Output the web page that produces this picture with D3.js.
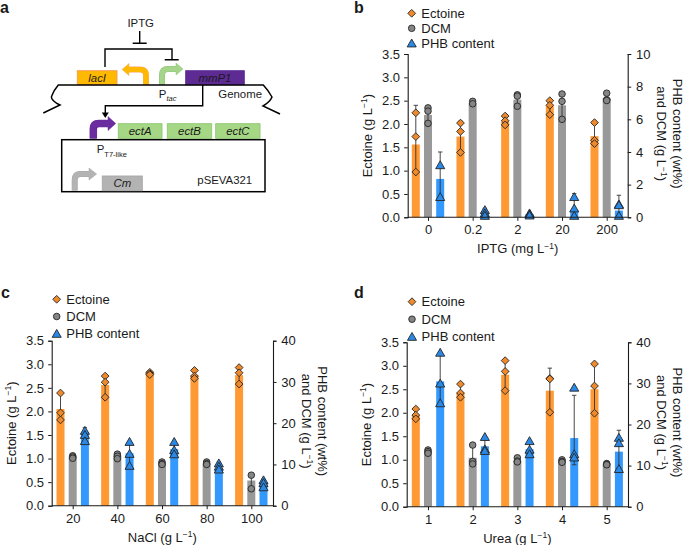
<!DOCTYPE html>
<html><head><meta charset="utf-8">
<script src="https://cdn.jsdelivr.net/npm/d3@7"></script>
<style>
html,body{margin:0;padding:0;background:#fff}
svg{display:block}
text{font-family:"Liberation Sans",Arial,Helvetica,sans-serif;fill:#1a1a1a}
</style></head><body><svg id="c" width="685" height="545"></svg>
<script>
// Panel b
const bCats=["0","0.2","2","20","200"];
const bEct=[1.56,1.73,2.05,2.38,1.74];
const bEctPts=[[2.24,1.73,0.97],[2.02,1.84,1.39],[2.17,2.07,1.98],[2.5,2.4,2.2],[2.03,1.65,1.58]];
const bEctHi=[2.4,2.06,2.2,2.52,2.03];
const bEctLo=[0.97,1.39,1.98,2.2,1.58];
const bDcm=[6.27,7.0,7.2,6.86,7.3];
const bDcmPts=[[6.7,6.5,5.75],[7.1,6.95],[7.5,7.42,6.8],[7.55,7.1,6.0],[7.6,7.2,7.15]];
const bDcmHi=[6.7,7.1,7.55,7.6,7.6];
const bDcmLo=[5.75,6.9,6.8,6.0,7.15];
const bPhb=[2.35,0.3,0.2,0.45,0.41];
const bPhbPts=[[3.2,1.25],[0.45,0.25,0.1],[0.25,0.18,0.12],[1.25,0.55,0.1],[0.8,0.75,0.1]];
const bPhbHi=[4.0,0.55,0.3,1.45,1.35];
const bPhbLo=[1.25,0.05,0.1,0.05,0.05];
// Panel c
const cCats=["20","40","60","80","100"];
const cEct=[2.05,2.56,2.8,2.76,2.77];
const cEctPts=[[2.39,1.97,1.82],[2.75,2.62,2.3],[2.83,2.8,2.78],[2.87,2.75,2.7],[2.93,2.82,2.58]];
const cEctHi=[2.39,2.75,2.83,2.87,2.93];
const cEctLo=[1.82,2.3,2.78,2.7,2.58];
const cDcm=[12,12.2,10.3,10.2,6.1];
const cDcmPts=[[12.1,11.8,11.5],[12.5,12,11.4],[10.6,10.2,10.0],[10.6,10.2,10.0],[7.4,4.1]];
const cDcmHi=[12.6,12.6,10.8,10.7,7.9];
const cDcmLo=[11.4,11.3,9.8,9.7,4.1];
const cPhb=[17.7,12.7,13.7,9,5.5];
const cPhbPts=[[18.2,17.2,15.7],[15.5,12.6,9.7],[15.5,13.5,12.5],[10.3,9.5,8.8],[6.2,5.5,4.5]];
const cPhbHi=[18.9,15.5,15.5,10.6,6.4];
const cPhbLo=[15.7,9.7,12.3,8.6,4.4];
// Panel d
const dCats=["1","2","3","4","5"];
const dEct=[1.95,2.43,2.81,2.47,2.5];
const dEctPts=[[2.08,1.95,1.87],[2.61,2.42,2.33],[3.11,2.88,2.47],[2.73,2.72,2.01],[3.04,2.57,1.99]];
const dEctHi=[2.1,2.62,3.11,2.95,3.04];
const dEctLo=[1.85,2.3,2.47,2.01,1.99];
const dDcm=[13.4,11.9,11.2,11,10.3];
const dDcmPts=[[13.8,13.4,13],[15,11,10.4],[11.9,11.1,10.9],[11.4,11,10.8],[10.5,10.3,10.2]];
const dDcmHi=[13.9,15,12,11.6,10.6];
const dDcmLo=[13,10.4,10.8,10.5,10.1];
const dPhb=[30.5,14.7,14,16.7,13.4];
const dPhbPts=[[37.5,30,25.2],[17,14,13.6],[16,13.9,12.8],[29,12.8,12],[16.8,15.5,9.2]];
const dPhbHi=[37.5,17,16,27.1,18.6];
const dPhbLo=[25.2,13.4,12.8,10.2,9.2];

const leftTicks=[0,0.5,1,1.5,2,2.5,3,3.5];
const legendLabels=["Ectoine","DCM","PHB content"];
const colors=["#ff9933","#999999","#3399ff"];
const markerFill=["#ee8a2c","#858585","#2a88e6"];

const svg=d3.select("#c");
const FS=13;
const FSA=11.4;
const squareDiamond={draw(ctx,size){const r=Math.sqrt(size/2);ctx.moveTo(0,-r);ctx.lineTo(r,0);ctx.lineTo(0,r);ctx.lineTo(-r,0);ctx.closePath();}};

function sup(g,parts){
  const t=g.append("text").attr("font-size",FS);
  t.append("tspan").text(parts[0]);
  t.append("tspan").attr("font-size",8.5).attr("dy",-4.5).text(parts[1]);
  t.append("tspan").attr("dy",4.5).text(parts[2]);
  return t;
}
function marker(g,kind,x,y,fill){
  const size=kind===1?34:(kind===0?30:36);
  const type=kind===0?squareDiamond:(kind===1?d3.symbolCircle:d3.symbolTriangle);
  const dy=kind===2?1:0;
  g.append("path").attr("d",d3.symbol().type(type).size(size)())
    .attr("transform",`translate(${x},${y+dy})`)
    .attr("fill",fill).attr("stroke","#262626").attr("stroke-width",0.9);
}
function panel(o){
  const g=svg.append("g");
  const yL=d3.scaleLinear().domain([0,3.5]).range([o.y0,o.y1]);
  const yR=d3.scaleLinear().domain([0,o.rightMax]).range([o.y0,o.y1]);
  const x=d3.scalePoint().domain(o.cats).range([o.xFirst,o.xLast]);
  const off=d3.scalePoint().domain([0,1,2]).range([-12.2,12.2]);
  const bw=8;
  o.series.forEach((s,i)=>{
    const sc=i===0?yL:yR;
    g.append("g").selectAll("rect").data(s.bars).join("rect")
      .attr("x",(d,j)=>x(o.cats[j])+off(i)-bw/2).attr("width",bw)
      .attr("y",d=>sc(d)).attr("height",d=>o.y0-sc(d)).attr("fill",colors[i]);
  });
  o.series.forEach((s,i)=>{
    const sc=i===0?yL:yR;
    s.hi.forEach((h,j)=>{
      const cx=x(o.cats[j])+off(i);
      const path=d3.path();
      path.moveTo(cx,sc(h));path.lineTo(cx,sc(s.lo[j]));
      path.moveTo(cx-2.2,sc(h));path.lineTo(cx+2.2,sc(h));
      path.moveTo(cx-2.2,sc(s.lo[j]));path.lineTo(cx+2.2,sc(s.lo[j]));
      g.append("path").attr("d",path.toString()).attr("stroke","#333").attr("stroke-width",0.9).attr("fill","none");
    });
    s.pts.forEach((arr,j)=>arr.forEach(v=>marker(g,i,x(o.cats[j])+off(i),sc(v),markerFill[i])));
  });
  const axL=g.append("g").attr("transform",`translate(${o.xL},0)`).call(d3.axisLeft(yL).tickValues(leftTicks).tickFormat(d3.format(".1f")).tickSize(3.5).tickPadding(4.2));
  const axR=g.append("g").attr("transform",`translate(${o.xR},0)`).call(d3.axisRight(yR).tickValues(o.rightTicks).tickSize(3.5).tickPadding(4.8));
  const axB=g.append("g").attr("transform",`translate(0,${o.y0})`).call(d3.axisBottom(x).tickSize(3.5).tickPadding(4.3));
  [axL,axR,axB].forEach(a=>{
    a.selectAll("text").attr("font-size",FS).attr("font-family",'"Liberation Sans",Arial,sans-serif').attr("fill","#1a1a1a");
    a.selectAll("line").attr("stroke","#1a1a1a").attr("stroke-width",1);
    a.select(".domain").attr("stroke","#1a1a1a").attr("stroke-width",1.1);
  });
  axB.select(".domain").attr("d",`M${o.xL},0H${o.xR}`);
  sup(g,[o.xTitle,"−1",")"]).attr("text-anchor","middle")
    .attr("transform",`translate(${(o.xL+o.xR)/2},${o.y0+36})`);
  sup(g,["Ectoine (g L","−1",")"]).attr("text-anchor","middle")
    .attr("transform",`translate(${o.xL-36},${(o.y0+o.y1)/2}) rotate(-90)`);
  g.append("text").attr("font-size",FS).attr("text-anchor","middle")
    .attr("transform",`translate(${o.xR+45},${(o.y0+o.y1)/2-2}) rotate(90)`).text("PHB content (wt%)");
  sup(g,["and DCM (g L","−1",")"]).attr("text-anchor","middle")
    .attr("transform",`translate(${o.xR+29},${(o.y0+o.y1)/2-2}) rotate(90)`);
  legendLabels.forEach((l,i)=>{
    const yy=o.legY+i*o.legStep;
    marker(g,i,o.legX,yy,markerFill[i]);
    g.append("text").attr("x",o.legX+9.6).attr("y",yy+4.6).attr("font-size",FS).text(l);
  });
  g.append("text").attr("x",o.tagX).attr("y",o.tagY).attr("font-size",16).attr("font-weight","bold").attr("fill","#000").text(o.tag);
}

panel({tag:"b",tagX:354,tagY:13,cats:bCats,xFirst:428,xLast:606.7,xL:407.7,xR:627.7,y0:217.3,y1:54,rightMax:10,rightTicks:[0,2,4,6,8,10],
  xTitle:"IPTG (mg L",legX:411.7,legY:13.3,legStep:15,
  series:[{bars:bEct,pts:bEctPts,hi:bEctHi,lo:bEctLo},{bars:bDcm,pts:bDcmPts,hi:bDcmHi,lo:bDcmLo},{bars:bPhb,pts:bPhbPts,hi:bPhbHi,lo:bPhbLo}]});
panel({tag:"c",tagX:1,tagY:298,cats:cCats,xFirst:72.7,xLast:251.3,xL:51.7,xR:273,y0:505.7,y1:340.7,rightMax:40,rightTicks:[0,10,20,30,40],
  xTitle:"NaCl (g L",legX:56.7,legY:299.3,legStep:17.2,
  series:[{bars:cEct,pts:cEctPts,hi:cEctHi,lo:cEctLo},{bars:cDcm,pts:cDcmPts,hi:cDcmHi,lo:cDcmLo},{bars:cPhb,pts:cPhbPts,hi:cPhbHi,lo:cPhbLo}]});
panel({tag:"d",tagX:354,tagY:298,cats:dCats,xFirst:428,xLast:606.7,xL:406.7,xR:628,y0:506.7,y1:342.3,rightMax:40,rightTicks:[0,10,20,30,40],
  xTitle:"Urea (g L",legX:412,legY:301.7,legStep:17.5,
  series:[{bars:dEct,pts:dEctPts,hi:dEctHi,lo:dEctLo},{bars:dDcm,pts:dDcmPts,hi:dDcmHi,lo:dDcmLo},{bars:dPhb,pts:dPhbPts,hi:dPhbHi,lo:dPhbLo}]});

// Panel a: schematic
const a=svg.append("g");
a.append("text").attr("x",0).attr("y",13).attr("font-size",16).attr("font-weight","bold").attr("fill","#000").text("a");
function box(x0,x1,y0,y1,fill,stroke,label){
  a.append("rect").attr("x",x0).attr("y",y0).attr("width",x1-x0).attr("height",y1-y0).attr("fill",fill).attr("stroke",stroke).attr("stroke-width",0.9);
  if(label)a.append("text").attr("x",(x0+x1)/2).attr("y",(y0+y1)/2+4).attr("text-anchor","middle").attr("font-size",FSA).attr("font-style","italic").text(label);
}
function line(d,w){a.append("path").attr("d",d).attr("fill","none").attr("stroke","#000").attr("stroke-width",w||1.4);}
function bent(d,tip,color,w,edge){
  a.append("path").attr("d",d).attr("fill","none").attr("stroke",edge).attr("stroke-width",w+1);
  a.append("path").attr("d",tip).attr("fill",color).attr("stroke",edge).attr("stroke-width",0.5);
  a.append("path").attr("d",d).attr("fill","none").attr("stroke",color).attr("stroke-width",w);
}
a.append("text").attr("x",140.7).attr("y",26.7).attr("text-anchor","middle").attr("font-size",FSA).text("IPTG");
line("M139.7,31V43.3M132.7,43.3H146.7");
line("M105,67V49H172V59.7M164.7,59.7H178.7");
box(77.3,117,70.7,84.7,"#ffb900","#f29a55","lacI");
box(185.7,244.3,70.7,84.7,"#5e2a93","#5e2a93","mmP1");
bent("M146,84.7V75Q146,69.5 140,69.5H128","M129,63.5L122,69.5L129,75.5Z","#ffb900",5,"#f4a868");
bent("M162,84.7V75Q162,69 168,69H177","M176,63L183,69L176,75Z","#a5d58a",5,"#8fc474");
line("M43.3,113L60,105Q50,100 51.7,96Q54,90 58.3,85H263.3Q268,90 272,97Q270,102 263,106L280,114",1.5);
a.append("text").attr("x",158.7).attr("y",98.3).attr("font-size",FSA).text("P");
a.append("text").attr("x",166.5).attr("y",100.5).attr("font-size",7.5).attr("font-style","italic").text("tac");
a.append("text").attr("x",218.3).attr("y",98.3).attr("font-size",FSA).text("Genome");
line("M202.7,85V105.7H105.3V114");
a.append("path").attr("d","M101.8,112.5H108.8L105.3,118Z").attr("fill","#000");
bent("M93.3,138.5V129Q93.3,123.5 99,123.5H110","M108,116.5L115.7,123.5L108,130.5Z","#6a2c9f",6.5,"#6a2c9f");
box(118.3,162,123.7,138.3,"#a6d785","#8cc870","ectA");
box(167.3,211.7,123.7,138.3,"#a6d785","#8cc870","ectB");
box(215.7,260,123.7,138.3,"#a6d785","#8cc870","ectC");
a.append("rect").attr("x",61.7).attr("y",139.7).attr("width",203.3).attr("height",52).attr("fill","none").attr("stroke","#000").attr("stroke-width",1.5);
a.append("text").attr("x",96.7).attr("y",153.3).attr("font-size",FSA).text("P");
a.append("text").attr("x",104.3).attr("y",157).attr("font-size",7.5).text("T7-like");
bent("M74.7,190.5V180Q74.7,174 80.5,174H90","M89,168L96.7,174L89,180Z","#b3b3b3",5,"#a6a6a6");
box(102.3,142.3,176,190.7,"#b3b3b3","#a6a6a6","Cm");
a.append("text").attr("x",197.3).attr("y",184).attr("font-size",FSA).text("pSEVA321");
</script></body></html>
